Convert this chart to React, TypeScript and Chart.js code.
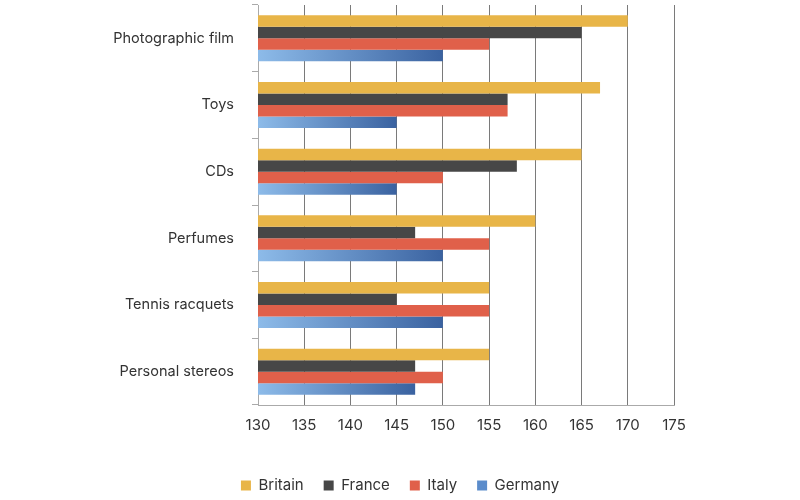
import React, { useEffect, useRef } from "react";
import { Chart, registerables } from "chart.js";

Chart.register(...registerables);

const categories = ["Photographic film", "Toys", "CDs", "Perfumes", "Tennis racquets", "Personal stereos"];
const britain = [170, 167, 165, 160, 155, 155];
const france = [165, 157, 158, 147, 145, 147];
const italy = [155, 157, 150, 155, 155, 150];
const germany = [150, 145, 145, 150, 150, 147];
const xTicks = [130, 135, 140, 145, 150, 155, 160, 165, 170, 175];

const FONT = "Inter, 'Noto Sans', sans-serif";

export default function App() {
  const ref = useRef<HTMLCanvasElement | null>(null);

  useEffect(() => {
    if (!ref.current) return;
    const germanyFill = (ctx: any) => {
      const chart = ctx.chart;
      const area = chart.chartArea;
      const xs = chart.scales?.x;
      if (!area || !xs || ctx.type !== "data") return "#5B8CCB";
      const v = germany[ctx.dataIndex];
      const x0 = xs.getPixelForValue(xTicks[0]);
      const x1 = xs.getPixelForValue(v);
      const g = chart.ctx.createLinearGradient(x0, 0, x1, 0);
      g.addColorStop(0, "#8DBBE9");
      g.addColorStop(1, "#3A62A0");
      return g;
    };
    const chart = new Chart(ref.current, {
      type: "bar",
      data: {
        labels: categories,
        datasets: [
          { label: "Britain", data: britain, backgroundColor: "#E8B548" },
          { label: "France", data: france, backgroundColor: "#474747" },
          { label: "Italy", data: italy, backgroundColor: "#E0604A" },
          { label: "Germany", data: germany, backgroundColor: germanyFill as any },
        ],
      },
      options: {
        indexAxis: "y",
        animation: false,
        responsive: false,
        maintainAspectRatio: false,
        datasets: { bar: { categoryPercentage: 0.69, barPercentage: 1.0, borderWidth: 0 } },
        layout: { padding: { top: 5, right: 0, left: 0, bottom: -3 } },
        plugins: {
          tooltip: { enabled: false },
          legend: {
            position: "bottom",
            labels: {
              font: { family: FONT, size: 15 },
              color: "#333333",
              boxWidth: 10,
              boxHeight: 10,
              padding: 20,
              generateLabels: (c: any) => {
                const items = Chart.defaults.plugins.legend.labels.generateLabels(c);
                return items
                  .map((it: any) =>
                    it.text === "Germany" ? { ...it, fillStyle: "#5B8CCB", strokeStyle: "#5B8CCB" } : it
                  )
                  .map((it: any) => ({ ...it, lineWidth: 0 }));
              },
            },
          },
        },
        scales: {
          x: {
            type: "linear",
            min: 130,
            max: 175,
            afterBuildTicks: (s: any) => {
              s.ticks = xTicks.map((v) => ({ value: v }));
            },
            afterFit: (s: any) => {
              s.height = 53;
              s.paddingLeft = 0;
              s.paddingRight = 0;
            },
            ticks: {
              color: "#333333",
              font: { family: FONT, size: 15 },
              padding: 11,
            },
            grid: {
              color: "#7a7a7a",
              lineWidth: 1,
              drawTicks: false,
            },
            border: { display: true, color: "#aaaaaa", width: 1 },
          },
          y: {
            afterFit: (s: any) => {
              s.width = 258;
              s.paddingTop = 0;
              s.paddingBottom = 0;
            },
            ticks: {
              color: "#333333",
              font: { family: FONT, size: 14.5 },
              padding: 18,
            },
            grid: {
              display: true,
              drawOnChartArea: false,
              drawTicks: true,
              tickLength: 6,
              tickColor: "#aaaaaa",
            },
            border: { display: true, color: "#aaaaaa", width: 1 },
          },
          yRightSpace: {
            type: "linear",
            axis: "y",
            position: "right",
            display: true,
            ticks: { display: false },
            grid: { display: false, drawTicks: false },
            border: { display: false },
            afterFit: (s: any) => {
              s.width = 126;
              s.paddingTop = 0;
              s.paddingBottom = 0;
            },
          } as any,
        },
      },
    });
    return () => chart.destroy();
  }, []);

  return (
    <div style={{ position: "absolute", left: 0, top: 0, width: 800, height: 500, background: "#ffffff" }}>
      <canvas ref={ref} width={800} height={500} style={{ width: 800, height: 500 }} />
    </div>
  );
}
